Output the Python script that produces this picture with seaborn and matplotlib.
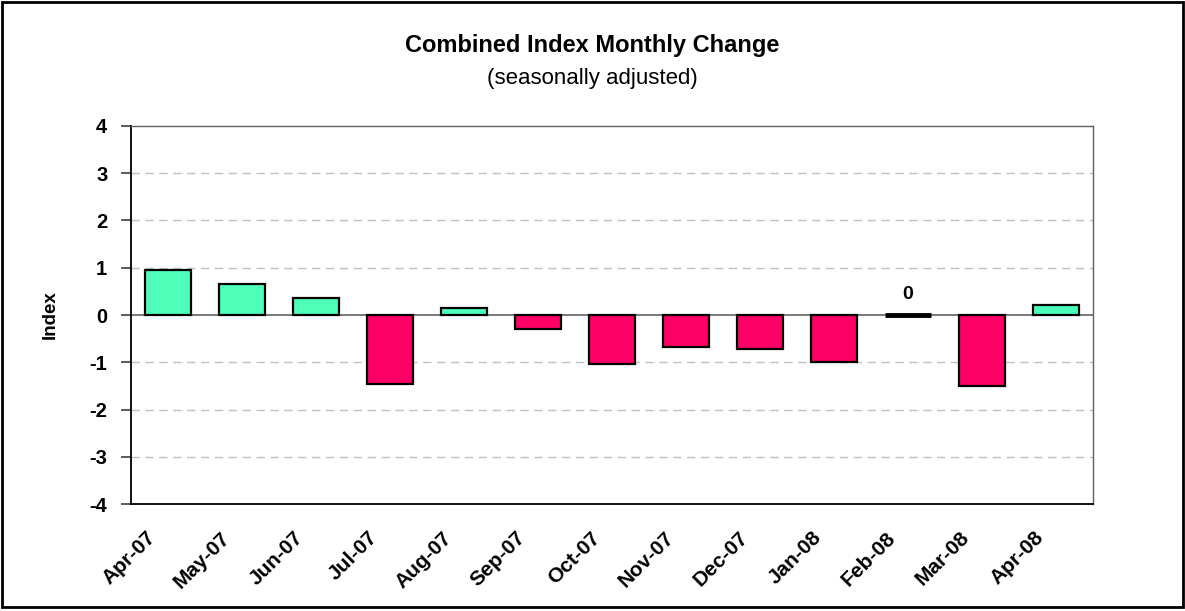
import numpy as np
import pandas as pd
import seaborn as sns
import matplotlib.pyplot as plt
import matplotlib.transforms as mtransforms
from matplotlib.patches import Rectangle

months = ['Apr-07', 'May-07', 'Jun-07', 'Jul-07', 'Aug-07', 'Sep-07', 'Oct-07',
          'Nov-07', 'Dec-07', 'Jan-08', 'Feb-08', 'Mar-08', 'Apr-08']
changes = [0.95, 0.65, 0.37, -1.45, 0.14, -0.30, -1.04,
           -0.68, -0.72, -0.99, 0.0, -1.50, 0.21]
y_ticks = [-4, -3, -2, -1, 0, 1, 2, 3, 4]

sns.set_theme(style='white')
plt.rcParams['font.family'] = ['Liberation Sans', 'DejaVu Sans']
plt.rcParams['text.color'] = 'black'
plt.rcParams['axes.labelcolor'] = 'black'
plt.rcParams['xtick.color'] = 'black'
plt.rcParams['ytick.color'] = 'black'

df = pd.DataFrame({'month': months, 'change': changes})
df['sign'] = np.where(df['change'] < 0, 'neg', 'pos')

fig = plt.figure(figsize=(11.85, 6.11), dpi=100)
ax = fig.add_axes([0.1105, 0.1751, 0.8119, 0.6187])

# Dashed grid behind bars
for t in y_ticks:
    if t not in (0, -4, 4):
        ax.axhline(t, color='#c0c0c0', linestyle=(0, (6, 4)), linewidth=1, zorder=0)
ax.axhline(0, color='#707070', linewidth=1.3, zorder=1)

sns.barplot(data=df, x='month', y='change', hue='sign', order=months,
            palette={'pos': '#4dffb8', 'neg': '#ff0066'}, dodge=False,
            width=0.62, edgecolor='black', linewidth=1.6, legend=False,
            saturation=1, ax=ax, zorder=2)

# zero-height bar shows up as a thick line, with its value on top
for patch in ax.patches:
    xc = patch.get_x() + patch.get_width() / 2
    idx = int(round(xc))
    if 0 <= idx < len(changes) and changes[idx] == 0:
        patch.set_linewidth(3.5)
        ax.text(xc, 0.25, '0', ha='center', va='bottom',
                fontsize=14, fontweight='bold')

ax.set_ylim(-4, 4)
ax.set_xlim(-0.5, len(months) - 0.5)
ax.set_yticks(y_ticks)
ax.set_yticklabels([str(t) for t in y_ticks], fontsize=14.5, fontweight='bold')
ax.tick_params(axis='y', which='both', left=True, length=7, width=1.2,
               color='#404040', pad=10)
ax.tick_params(axis='x', bottom=False, pad=2)

ax.set_xticks(range(len(months)))
ax.set_xticklabels(months, rotation=45, ha='right', rotation_mode='anchor',
                   fontsize=15, fontweight='bold')
shift = mtransforms.ScaledTranslation(-22 / 100, -13 / 100, fig.dpi_scale_trans)
for lbl in ax.get_xticklabels():
    lbl.set_transform(lbl.get_transform() + shift)

ax.set_xlabel('')
ax.set_ylabel('Index', fontsize=13.5, fontweight='bold', labelpad=22)

for side in ['left', 'bottom']:
    ax.spines[side].set_color('black')
    ax.spines[side].set_linewidth(1.3)
for side in ['top', 'right']:
    ax.spines[side].set_color('#606060')
    ax.spines[side].set_linewidth(1)

fig.text(0.5, 0.925, 'Combined Index Monthly Change', ha='center', va='center',
         fontsize=17, fontweight='bold')
fig.text(0.5, 0.872, '(seasonally adjusted)', ha='center', va='center',
         fontsize=16)

# outer chart border
fig.patches.append(Rectangle((0.002, 0.006), 0.996, 0.99, transform=fig.transFigure,
                             fill=False, edgecolor='black', linewidth=2))

fig.savefig('out.png', dpi=100)
